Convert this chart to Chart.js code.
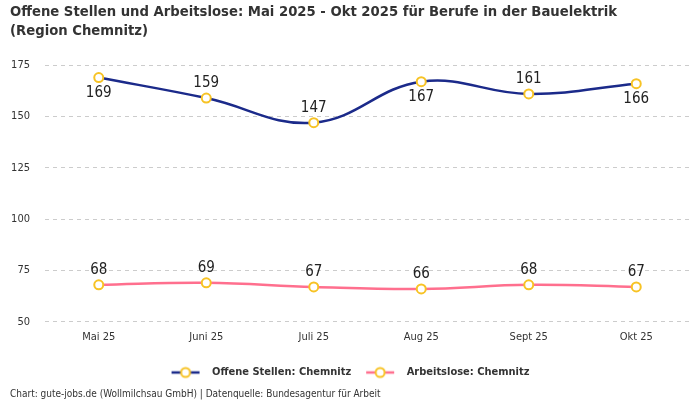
<!DOCTYPE html>
<html>
<head>
<meta charset="utf-8">
<script src="https://cdn.jsdelivr.net/npm/chart.js@4/dist/chart.umd.min.js"></script>
<style>
  html, body { margin: 0; padding: 0; background: #fff; }
  #wrap { width: 700px; height: 400px; position: relative; }
</style>
</head>
<body>
<div id="wrap"><canvas id="chart"></canvas></div>
<script>
// Chart data
const months = ['Mai 25', 'Juni 25', 'Juli 25', 'Aug 25', 'Sept 25', 'Okt 25'];
const offeneStellen = [169, 159, 147, 167, 161, 166];
const arbeitslose = [68, 69, 67, 66, 68, 67];
// label placement for the first series: true = above the point
const stellenLabelAbove = [false, true, true, false, true, false];

const FONT = "'DejaVu Sans Condensed', 'Liberation Sans Narrow', 'Roboto', sans-serif";
const BLUE = '#1b2a8a';
const PINK = '#ff6f8e';
const YELLOW = '#f7c325';

// Legend icon: short line with a hollow circle (extra blank space on the right)
function legendIcon(color) {
    const c = document.createElement('canvas');
    c.width = 36; c.height = 14;
    const ctx = c.getContext('2d');
    ctx.strokeStyle = color;
    ctx.lineWidth = 2.5;
    ctx.beginPath();
    ctx.moveTo(1, 7); ctx.lineTo(29, 7);
    ctx.stroke();
    ctx.fillStyle = '#fff';
    ctx.strokeStyle = YELLOW;
    ctx.lineWidth = 2;
    ctx.beginPath();
    ctx.arc(15, 7, 4.5, 0, Math.PI * 2);
    ctx.fill();
    ctx.stroke();
    return c;
}

// Simple value labels (no datalabels plugin available)
const valueLabels = {
    id: 'valueLabels',
    afterDatasetsDraw(chart) {
        const ctx = chart.ctx;
        ctx.save();
        ctx.font = "15px " + FONT;
        ctx.fillStyle = '#222';
        ctx.textAlign = 'center';
        chart.data.datasets.forEach((ds, i) => {
            const meta = chart.getDatasetMeta(i);
            meta.data.forEach((pt, j) => {
                const above = i === 0 ? stellenLabelAbove[j] : true;
                ctx.textBaseline = above ? 'bottom' : 'top';
                const y = above ? pt.y - 7 : pt.y + 8;
                ctx.fillText(ds.data[j], pt.x, y);
            });
        });
        ctx.restore();
    }
};

const pointStyle = {
    pointRadius: 4.5,
    pointHoverRadius: 5,
    pointBackgroundColor: '#fff',
    pointBorderColor: YELLOW,
    pointBorderWidth: 2
};

new Chart(document.getElementById('chart'), {
    type: 'line',
    data: {
        labels: months,
        datasets: [{
            label: 'Offene Stellen: Chemnitz',
            data: offeneStellen,
            borderColor: BLUE,
            borderWidth: 2.5,
            tension: 0.4,
            ...pointStyle
        }, {
            label: 'Arbeitslose: Chemnitz',
            data: arbeitslose,
            borderColor: PINK,
            borderWidth: 2.5,
            tension: 0.4,
            ...pointStyle
        }]
    },
    options: {
        responsive: true,
        maintainAspectRatio: false,
        animation: false,
        layout: { padding: { left: 10, right: 10, top: 3, bottom: 0 } },
        plugins: {
            title: {
                display: true,
                text: ['Offene Stellen und Arbeitslose: Mai 2025 - Okt 2025 für Berufe in der Bauelektrik', '(Region Chemnitz)'],
                align: 'start',
                color: '#333',
                font: { family: FONT, size: 14.7, weight: 'bold', lineHeight: 1.3 },
                padding: { top: 0, bottom: 24 }
            },
            subtitle: {
                display: true,
                position: 'bottom',
                align: 'start',
                text: 'Chart: gute-jobs.de (Wollmilchsau GmbH) | Datenquelle: Bundesagentur für Arbeit',
                color: '#333',
                font: { family: FONT, size: 10 },
                padding: { top: 0, bottom: 0 }
            },
            legend: {
                position: 'bottom',
                labels: {
                    usePointStyle: true,
                    pointStyleWidth: 36,
                    color: '#333',
                    font: { family: FONT, size: 11, weight: 'bold' },
                    padding: 14,
                    generateLabels(chart) {
                        return chart.data.datasets.map((ds, i) => ({
                            text: ds.label,
                            pointStyle: legendIcon(ds.borderColor),
                            fillStyle: ds.borderColor,
                            strokeStyle: ds.borderColor,
                            lineWidth: 0,
                            fontColor: '#333',
                            hidden: !chart.isDatasetVisible(i),
                            datasetIndex: i
                        }));
                    }
                }
            },
            tooltip: { enabled: false }
        },
        scales: {
            x: {
                offset: true,
                grid: { display: false },
                border: { display: false },
                ticks: { color: '#333', font: { family: FONT, size: 11 }, padding: 1 },
                afterFit(scale) { scale.height += 8; }
            },
            y: {
                min: 50,
                max: 175,
                grid: { color: '#ccc', drawTicks: false },
                border: { display: false, dash: [4, 4] },
                ticks: { stepSize: 25, color: '#333', font: { family: FONT, size: 11 }, padding: 15 },
                afterFit(scale) { scale.width = 35; }
            }
        }
    },
    plugins: [valueLabels]
});
</script>
</body>
</html>
